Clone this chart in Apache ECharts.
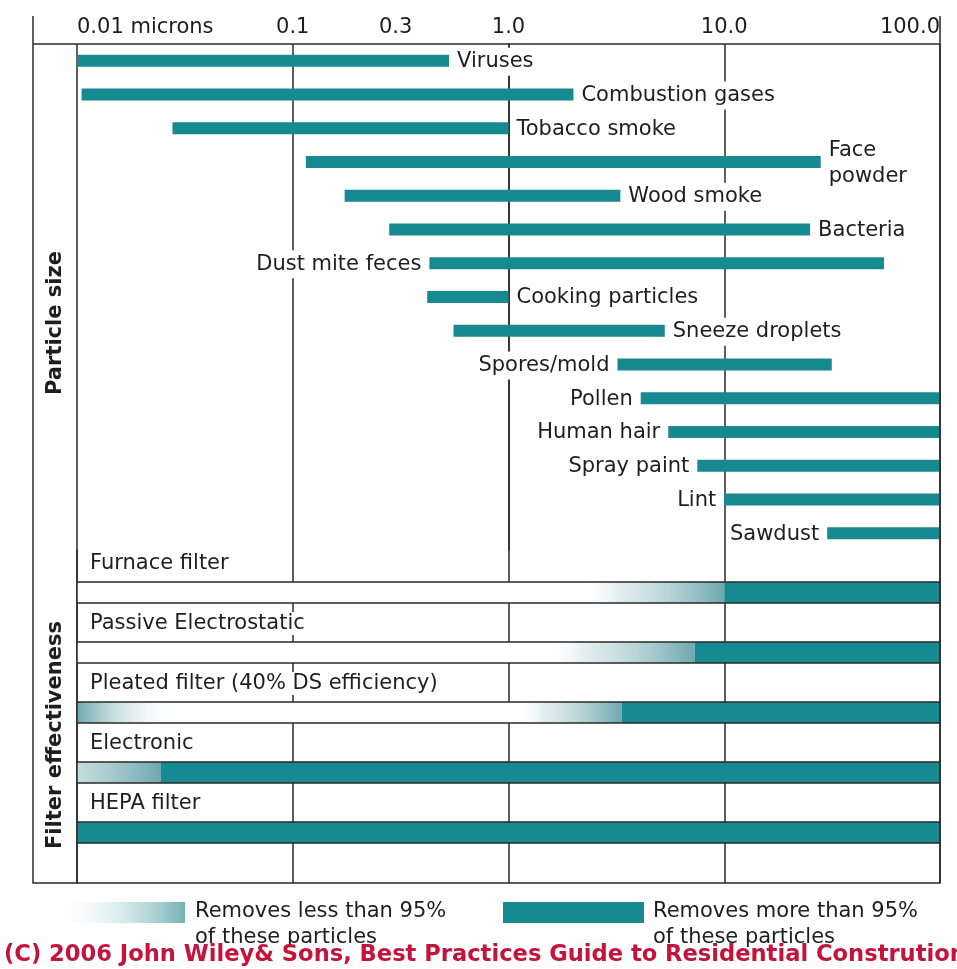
<!DOCTYPE html>
<html><head><meta charset="utf-8">
<script src="https://cdn.jsdelivr.net/npm/echarts@6/dist/echarts.min.js"></script>
<style>html,body{margin:0;padding:0;background:#fff}#c{width:957px;height:969px}</style>
</head><body><div id="c"></div>
<script>
// ---- data ----
const particleNames = ['Viruses','Combustion gases','Tobacco smoke','Face\npowder','Wood smoke','Bacteria','Dust mite feces','Cooking particles','Sneeze droplets','Spores/mold','Pollen','Human hair','Spray paint','Lint','Sawdust'];
const particleMin = [0.01, 0.0105, 0.0277, 0.115, 0.174, 0.28, 0.43, 0.42, 0.556, 3.2, 4.1, 5.5, 7.5, 10, 30];
const particleMax = [0.53, 2.0, 1.0, 28, 3.3, 25, 55, 1.0, 5.3, 31.5, 100, 100, 100, 100, 100];
const labelSide = ['right','right','right','right','right','right','left','right','right','left','left','left','left','left','left'];

const filterNames = ['Furnace filter','Passive Electrostatic','Pleated filter (40% DS efficiency)','Electronic','HEPA filter'];
const filterSolidFrom = [10, 7.3, 3.35, 0.0245, 0.01];   // removes > 95% from this size up
const filterFadeFrom  = [2.2, 1.5, 1.1, 0.004, null];    // partial removal starts
const filterLowFadeTo = [null, null, 0.029, null, null]; // partial removal at small end

const tickValues = [0.01, 0.1, 0.3, 1, 10, 100];
const tickLabels = ['0.01 microns','0.1','0.3','1.0','10.0','100.0'];

// ---- style ----
const TEAL = '#178990';
const FADE = '#6ea8ae';
const INK = '#1e1e1e';
const LINE = '#2a2a2a';
const FONT = '"DejaVu Sans", sans-serif';

const chart = echarts.init(document.getElementById('c'), null, {renderer: 'canvas'});

function renderParticle(params, api) {
  const i = api.value(2);
  const s = api.coord([api.value(0), i]);
  const e = api.coord([api.value(1), i]);
  const h = 12;
  const side = labelSide[params.dataIndex];
  return {type: 'group', children: [
    {type: 'rect', shape: {x: s[0], y: s[1] - h / 2, width: e[0] - s[0], height: h}, style: {fill: TEAL}},
    {type: 'text', x: side === 'right' ? e[0] + 6 : s[0] - 6, y: s[1] + 1,
     style: {text: particleNames[params.dataIndex], fill: INK, fontSize: 21, fontFamily: FONT,
             align: side === 'right' ? 'left' : 'right', verticalAlign: 'middle',
             backgroundColor: '#fff', padding: [1, 2], lineHeight: 26}}
  ]};
}

function renderFilter(params, api) {
  const i = params.dataIndex;
  const x0 = api.coord([0.01, 0])[0];
  const x1 = api.coord([100, 0])[0];
  const yTop = api.coord([1, i + 0.533])[1];
  const yBot = api.coord([1, i + 0.883])[1];
  const h = yBot - yTop;
  const solid = api.value(1), fade = api.value(2), low = api.value(3);
  const xs = api.coord([solid, 0])[0];
  const ch = [{type: 'rect', shape: {x: x0, y: yTop, width: x1 - x0, height: h}, style: {fill: '#fff'}}];
  if (isFinite(fade) && fade > 0) {
    const xf = api.coord([fade, 0])[0];
    ch.push({type: 'rect', shape: {x: xf, y: yTop, width: xs - xf, height: h},
      style: {fill: new echarts.graphic.LinearGradient(0, 0, 1, 0, [{offset: 0, color: 'rgba(255,255,255,0)'}, {offset: 0.25, color: 'rgba(200,222,225,0.5)'}, {offset: 1, color: FADE}])}});
  }
  if (isFinite(low) && low > 0) {
    const xl = api.coord([low, 0])[0];
    ch.push({type: 'rect', shape: {x: x0, y: yTop, width: xl - x0, height: h},
      style: {fill: new echarts.graphic.LinearGradient(0, 0, 1, 0, [{offset: 0, color: FADE}, {offset: 1, color: 'rgba(255,255,255,0)'}])}});
  }
  ch.push({type: 'rect', shape: {x: xs, y: yTop, width: x1 - xs, height: h}, style: {fill: TEAL}});
  ch.push({type: 'rect', shape: {x: x0, y: yTop, width: x1 - x0, height: h}, style: {fill: 'none', stroke: LINE, lineWidth: 1.5}});
  const yl = api.coord([1, i + 0.225])[1];
  ch.push({type: 'text', x: x0 + 11, y: yl,
    style: {text: filterNames[i], fill: INK, fontSize: 21, fontFamily: FONT, align: 'left', verticalAlign: 'middle',
            backgroundColor: '#fff', padding: [1, 2]}});
  return {type: 'group', children: ch};
}

const particleData = particleNames.map((n, i) => [particleMin[i], particleMax[i], i]);
const filterData = filterNames.map((n, i) => [i, filterSolidFrom[i], filterFadeFrom[i] == null ? NaN : filterFadeFrom[i], filterLowFadeTo[i] == null ? NaN : filterLowFadeTo[i]]);

const splitStyle = {show: true, lineStyle: {color: LINE, width: 1.5}};

chart.setOption({
  animation: false,
  backgroundColor: '#fff',
  grid: [
    {left: 77, top: 44, width: 863, height: 506},
    {left: 77, top: 550, width: 863, height: 333}
  ],
  xAxis: [
    {type: 'log', gridIndex: 0, min: 0.01, max: 100, logBase: 10, position: 'bottom',
     axisLine: {show: false}, axisTick: {show: false}, axisLabel: {show: false}, splitLine: splitStyle},
    {type: 'log', gridIndex: 1, min: 0.01, max: 100, logBase: 10,
     axisLine: {show: false}, axisTick: {show: false}, axisLabel: {show: false}, splitLine: splitStyle},
    {type: 'value', gridIndex: 0, min: -2, max: 2, position: 'top',
     axisLine: {show: false}, axisTick: {show: false}, splitLine: {show: false},
     axisLabel: {show: true, customValues: tickValues.map(v => Math.log10(v)), margin: 6,
       color: INK, fontSize: 21, fontFamily: FONT, alignMinLabel: 'left', alignMaxLabel: 'right',
       hideOverlap: false,
       formatter: function (v) {
         let best = 0, d = Infinity;
         tickValues.forEach((t, k) => { const dd = Math.abs(Math.log10(t) - v); if (dd < d) { d = dd; best = k; } });
         return tickLabels[best];
       }}}
  ],
  yAxis: [
    {type: 'category', gridIndex: 0, inverse: true, data: particleNames,
     axisLine: {show: true, lineStyle: {color: LINE, width: 1.5}}, axisTick: {show: false}, axisLabel: {show: false}, splitLine: {show: false}},
    {type: 'value', gridIndex: 1, inverse: true, min: 0, max: 5.55,
     axisLine: {show: true, lineStyle: {color: LINE, width: 1.5}}, axisTick: {show: false}, axisLabel: {show: false}, splitLine: {show: false}}
  ],
  series: [
    {type: 'custom', name: 'Particle size', xAxisIndex: 0, yAxisIndex: 0, data: particleData,
     encode: {x: [0, 1], y: 2}, renderItem: renderParticle, clip: true},
    {type: 'custom', name: 'Filter effectiveness', xAxisIndex: 1, yAxisIndex: 1, data: filterData,
     encode: {x: [1, 2], y: 0}, renderItem: renderFilter, clip: true}
  ],
  graphic: [
    {type: 'polyline', shape: {points: [[33, 16], [33, 883], [940, 883], [940, 16]]}, style: {stroke: LINE, lineWidth: 1.5, fill: 'none'}, z: 10},
    {type: 'line', shape: {x1: 33, y1: 44, x2: 940, y2: 44}, style: {stroke: LINE, lineWidth: 1.5}, z: 10},
    {type: 'text', x: 56, y: 323, rotation: Math.PI / 2,
     style: {text: 'Particle size', fill: INK, font: 'bold 21px ' + FONT, align: 'center', verticalAlign: 'middle'}},
    {type: 'text', x: 56, y: 735, rotation: Math.PI / 2,
     style: {text: 'Filter effectiveness', fill: INK, font: 'bold 21px ' + FONT, align: 'center', verticalAlign: 'middle'}},
    {type: 'rect', shape: {x: 52, y: 902, width: 133, height: 21},
     style: {fill: new echarts.graphic.LinearGradient(0, 0, 1, 0, [{offset: 0, color: 'rgba(255,255,255,0)'}, {offset: 1, color: '#74b2b5'}])}},
    {type: 'text', x: 195, y: 899,
     style: {text: 'Removes less than 95%\nof these particles', fill: INK, fontSize: 21, fontFamily: FONT, align: 'left', verticalAlign: 'top', lineHeight: 26}},
    {type: 'rect', shape: {x: 503, y: 902, width: 141, height: 21}, style: {fill: TEAL}},
    {type: 'text', x: 653, y: 899,
     style: {text: 'Removes more than 95%\nof these particles', fill: INK, fontSize: 21, fontFamily: FONT, align: 'left', verticalAlign: 'top', lineHeight: 26}},
    {type: 'text', x: 4, y: 955, z: 20,
     style: {text: '(C) 2006 John Wiley& Sons, Best Practices Guide to Residential Constrution', fill: '#c4143c', font: 'bold 22.6px ' + FONT, align: 'left', verticalAlign: 'middle'}}
  ]
});
</script>
</body></html>
